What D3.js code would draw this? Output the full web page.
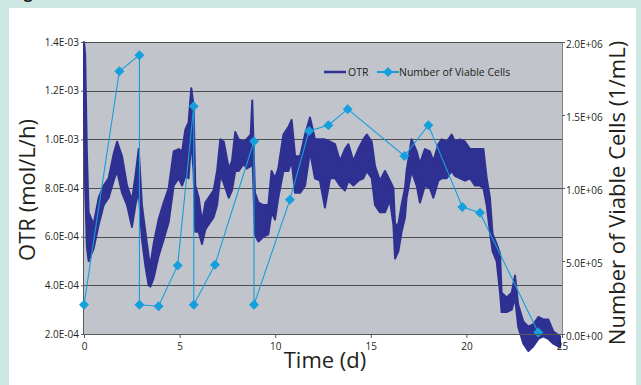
<!DOCTYPE html>
<html>
<head>
<meta charset="utf-8">
<script src="https://cdn.jsdelivr.net/npm/d3@7"></script>
<style>
  body { margin: 0; background: #cde8e3; }
  svg { display: block; }
  text { font-family: "Open Sans", "Noto Sans", sans-serif; fill: #231f20; }
</style>
</head>
<body>
<svg id="chart" width="641" height="385"></svg>
<script>
// OTR trace, read as a noise band (low/high) along time in days
const otrTime = [0, 0.06, 0.15, 0.24, 0.5, 0.77, 1.03, 1.29, 1.55, 1.73, 1.99, 2.25, 2.51, 2.69, 2.86,
  3.03, 3.21, 3.38, 3.47, 3.64, 3.9, 4.17, 4.43, 4.69, 4.95, 5.13, 5.3, 5.47, 5.61, 5.73, 5.82,
  6.0, 6.17, 6.35, 6.52, 6.78, 6.96, 7.13, 7.31, 7.57, 7.74, 7.91, 8.09, 8.35, 8.5, 8.72, 8.8, 8.94,
  9.12, 9.38, 9.64, 9.81, 9.99, 10.16, 10.43, 10.69, 10.86, 11.04, 11.3, 11.56, 11.82, 12.08, 12.34,
  12.6, 12.87, 13.13, 13.39, 13.65, 13.83, 14.09, 14.35, 14.61, 14.79, 15.05, 15.22, 15.48, 15.74,
  16.0, 16.18, 16.27, 16.44, 16.61, 16.79, 16.87, 17.13, 17.4, 17.57, 17.83, 18.09, 18.27, 18.53,
  18.71, 18.97, 19.23, 19.4, 19.67, 19.93, 20.19, 20.45, 20.71, 20.89, 21.06, 21.23, 21.37, 21.58,
  21.76, 21.84, 22.11, 22.37, 22.54, 22.71, 22.98, 23.24, 23.5, 23.76, 24.02, 24.28, 24.55, 24.9];
const otrLow = [11.0, 8.0, 5.6, 5.0, 5.5, 6.5, 7.3, 7.6, 8.3, 8.7, 7.8, 7.3, 6.4, 7.3, 7.9,
  5.9, 4.8, 4.0, 3.95, 4.3, 5.2, 5.9, 6.6, 8.1, 8.4, 8.1, 8.5, 8.4, 10.0, 8.7, 6.2,
  6.2, 5.7, 6.3, 6.5, 6.8, 7.3, 8.5, 8.2, 7.6, 7.9, 8.7, 8.7, 9.0, 8.8, 8.9, 9.6, 6.1,
  5.8, 6.0, 6.1, 7.0, 6.7, 7.6, 8.7, 8.7, 9.1, 7.8, 7.8, 8.1, 9.5, 8.4, 8.3,
  7.2, 8.4, 8.4, 8.1, 7.9, 8.3, 8.1, 8.3, 8.4, 8.7, 8.4, 7.3, 7.0, 7.0,
  7.5, 6.5, 5.1, 5.4, 6.2, 6.8, 7.6, 8.7, 8.1, 7.4, 8.1, 8.0, 7.6, 8.3,
  8.4, 8.4, 8.7, 8.5, 8.4, 8.3, 8.4, 8.1, 8.1, 8.0, 7.3, 6.2, 5.4, 5.0,
  3.7, 2.9, 2.9, 3.0, 3.5, 2.3, 1.6, 1.3, 1.5, 1.8, 1.9, 1.8, 1.6, 1.45].map(v => v * 1e-4);
const otrHigh = [14.0, 13.5, 9.5, 7.0, 6.5, 7.6, 8.1, 8.4, 9.4, 9.9, 9.3, 8.1, 7.5, 8.5, 9.6,
  7.3, 6.2, 5.2, 4.8, 5.7, 6.7, 7.4, 8.0, 9.5, 9.6, 9.5, 10.4, 10.7, 12.1, 11.4, 8.1,
  7.6, 6.6, 7.4, 7.6, 7.9, 8.7, 10.0, 9.9, 8.8, 9.1, 10.3, 10.0, 9.9, 10.0, 10.2, 11.6, 7.8,
  7.4, 7.3, 7.3, 8.7, 8.4, 8.8, 10.2, 10.5, 10.8, 9.3, 9.3, 10.2, 10.9, 10.0, 10.0,
  10.0, 9.9, 9.8, 9.1, 9.6, 9.8, 9.1, 9.6, 10.0, 10.2, 9.9, 8.9, 8.3, 8.7,
  8.3, 8.0, 6.5, 6.5, 7.3, 8.0, 8.7, 10.0, 9.5, 9.0, 9.6, 9.5, 9.1, 9.8,
  10.0, 9.9, 10.2, 9.9, 10.0, 9.9, 9.6, 9.6, 9.6, 9.6, 8.4, 7.6, 6.1, 5.7,
  5.3, 3.7, 3.5, 3.7, 4.4, 3.2, 2.5, 2.3, 2.4, 2.7, 2.6, 2.6, 2.1, 1.9].map(v => v * 1e-4);

// number of viable cells (1/mL)
const cellTime = [0, 1.85, 2.9, 2.9, 3.9, 4.9, 5.74, 5.74, 6.85, 8.89, 8.89, 10.77, 11.77, 12.78,
  13.79, 16.76, 18.01, 19.79, 20.71, 23.76];
const cellCount = [0.20, 1.80, 1.91, 0.20, 0.19, 0.47, 1.56, 0.20, 0.475, 1.32, 0.20, 0.92, 1.39,
  1.43, 1.54, 1.22, 1.43, 0.87, 0.83, 0.01].map(v => v * 1e6);

const xTicks = [0, 5, 10, 15, 20, 25];
const otrTicks = [2e-4, 4e-4, 6e-4, 8e-4, 10e-4, 12e-4, 14e-4];
const cellTicks = [0, 5e5, 10e5, 15e5, 20e5];

const OTR_COLOR = '#2e3192';
const CELL_COLOR = '#159fdc';

const sci = (v) => {
    const [m, e] = v.toExponential(1).split('e');
    return m + 'E' + e[0] + e.slice(1).padStart(2, '0');
};

const svg = d3.select('#chart');

// white panel
svg.append('rect')
    .attr('x', 9).attr('y', 8)
    .attr('width', 627).attr('height', 380)
    .attr('fill', '#ffffff');

// caption above, only its descender shows
svg.append('text')
    .attr('x', 10).attr('y', -2)
    .attr('font-size', 16)
    .attr('font-weight', 'bold')
    .text('Fig');

const x = d3.scaleLinear().domain([0, 25]).range([84, 562]);
const yL = d3.scaleLinear().domain([2e-4, 1.4e-3]).range([334, 42]);
const yR = d3.scaleLinear().domain([0, 2e6]).range([334, 42]);

// plot area
svg.append('rect')
    .attr('x', x(0)).attr('y', yL(1.4e-3))
    .attr('width', x(25) - x(0)).attr('height', yL(2e-4) - yL(1.4e-3))
    .attr('fill', '#c1c4ca');

// gridlines
svg.append('g')
    .selectAll('line')
    .data(otrTicks)
    .enter()
    .append('line')
    .attr('x1', x(0)).attr('x2', x(25))
    .attr('y1', d => Math.round(yL(d)) + 0.5)
    .attr('y2', d => Math.round(yL(d)) + 0.5)
    .attr('stroke', '#4d4d4f')
    .attr('stroke-width', 1);

// right axis line
svg.append('line')
    .attr('x1', x(25) + 0.5).attr('x2', x(25) + 0.5)
    .attr('y1', 42).attr('y2', 334)
    .attr('stroke', '#808285');

// left axis line
svg.append('line')
    .attr('x1', x(0) - 0.5).attr('x2', x(0) - 0.5)
    .attr('y1', 42).attr('y2', 334)
    .attr('stroke', '#58595b');

// OTR band
const otrData = otrTime.map((t, i) => ({ t: t, lo: otrLow[i], hi: otrHigh[i] }));
svg.append('path')
    .datum(otrData)
    .attr('d', d3.area()
        .x(d => x(d.t))
        .y0(d => yL(d.lo))
        .y1(d => yL(d.hi)))
    .attr('fill', OTR_COLOR)
    .attr('stroke', OTR_COLOR)
    .attr('stroke-width', 2)
    .attr('stroke-linejoin', 'round');

// cells line + diamonds
const cellData = cellTime.map((t, i) => ({ t: t, n: cellCount[i] }));
svg.append('path')
    .datum(cellData)
    .attr('d', d3.line().x(d => x(d.t)).y(d => yR(d.n)))
    .attr('fill', 'none')
    .attr('stroke', CELL_COLOR)
    .attr('stroke-width', 1.1);

const diamond = d3.symbol().type(d3.symbolSquare).size(50);
svg.append('g')
    .selectAll('path')
    .data(cellData)
    .enter()
    .append('path')
    .attr('d', diamond)
    .attr('transform', d => `translate(${x(d.t)},${yR(d.n)}) rotate(45)`)
    .attr('fill', CELL_COLOR);

// bottom axis
const xAxis = svg.append('g')
    .attr('transform', 'translate(0,334)')
    .call(d3.axisBottom(x).tickValues(xTicks).tickSize(4).tickSizeOuter(0).tickPadding(5));
xAxis.select('.domain').attr('stroke', '#58595b');
xAxis.selectAll('line').attr('stroke', '#58595b');
xAxis.selectAll('text')
    .attr('font-family', '"Open Sans", sans-serif')
    .attr('font-size', 10)
    .attr('fill', '#231f20');

// left axis
const lAxis = svg.append('g')
    .attr('transform', 'translate(84,0)')
    .call(d3.axisLeft(yL).tickValues(otrTicks).tickFormat(sci).tickSize(3).tickSizeOuter(0).tickPadding(2));
lAxis.select('.domain').remove();
lAxis.selectAll('line').attr('stroke', '#58595b');
lAxis.selectAll('text')
    .attr('font-family', '"Open Sans", sans-serif')
    .attr('font-size', 10)
    .attr('fill', '#231f20');

// right axis
const rAxis = svg.append('g')
    .attr('transform', 'translate(562,0)')
    .call(d3.axisRight(yR).tickValues(cellTicks).tickFormat(sci).tickSize(3).tickSizeOuter(0).tickPadding(1));
rAxis.select('.domain').remove();
rAxis.selectAll('line').attr('stroke', '#58595b');
rAxis.selectAll('text')
    .attr('font-family', '"Open Sans", sans-serif')
    .attr('font-size', 10)
    .attr('dy', '0.55em')
    .attr('fill', '#231f20');

// axis titles
svg.append('text')
    .attr('transform', 'translate(35,190) rotate(-90)')
    .attr('text-anchor', 'middle')
    .attr('font-size', 22)
    .text('OTR (mol/L/h)');

svg.append('text')
    .attr('transform', 'translate(625,193) rotate(-90)')
    .attr('text-anchor', 'middle')
    .attr('font-size', 22)
    .text('Number of Viable Cells (1/mL)');

svg.append('text')
    .attr('x', 325).attr('y', 368)
    .attr('text-anchor', 'middle')
    .attr('font-size', 22)
    .text('Time (d)');

// legend
const legend = svg.append('g').attr('transform', 'translate(324,72)');
legend.append('line')
    .attr('x1', 0).attr('x2', 22)
    .attr('stroke', OTR_COLOR).attr('stroke-width', 2.5);
legend.append('text')
    .attr('x', 24).attr('dy', '0.35em')
    .attr('font-size', 10.5)
    .text('OTR');
legend.append('line')
    .attr('x1', 53).attr('x2', 75)
    .attr('stroke', CELL_COLOR).attr('stroke-width', 2);
legend.append('path')
    .attr('d', diamond)
    .attr('transform', 'translate(64,0) rotate(45)')
    .attr('fill', CELL_COLOR);
legend.append('text')
    .attr('x', 75).attr('dy', '0.35em')
    .attr('font-size', 10.5)
    .text('Number of Viable Cells');
</script>
</body>
</html>
